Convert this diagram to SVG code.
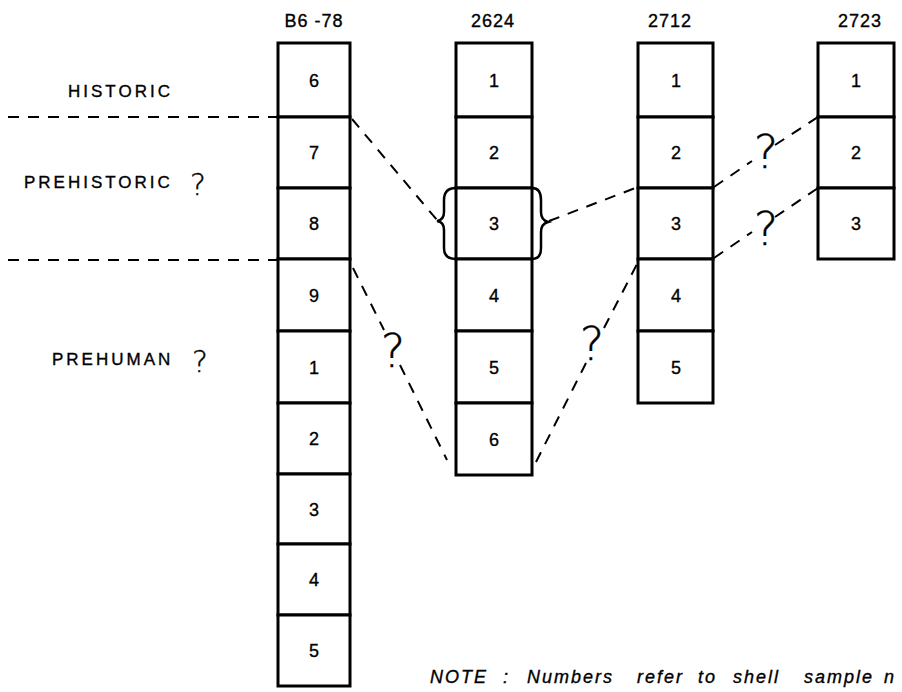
<svg xmlns="http://www.w3.org/2000/svg" width="902" height="692" viewBox="0 0 902 692">
<style>
.cell{fill:#fff;stroke:#000;stroke-width:3}
.num{font-family:"Liberation Sans",Arial,sans-serif;font-size:18px;text-anchor:middle;fill:#000;stroke:#000;stroke-width:0.35}
.hdr{font-family:"Liberation Sans",Arial,sans-serif;font-size:18px;text-anchor:middle;fill:#000;letter-spacing:1px;stroke:#000;stroke-width:0.35}
.lbl{font-family:"Liberation Sans",Arial,sans-serif;font-size:17px;fill:#000;letter-spacing:3px;stroke:#000;stroke-width:0.35}
.q{font-family:"DejaVu Sans",sans-serif;font-weight:200;text-anchor:middle;fill:#000;stroke:#000;stroke-width:0.4}
.dash{fill:none;stroke:#000;stroke-width:2;stroke-dasharray:11 9}
.brace{fill:none;stroke:#000;stroke-width:2.5}
.note{font-family:"Liberation Sans",Arial,sans-serif;font-size:18px;font-style:italic;fill:#000;letter-spacing:2px;stroke:#000;stroke-width:0.35}
</style>
<rect width="902" height="692" fill="#fff"/>

<g id="labels">
<text class="lbl" x="68" y="97">HISTORIC</text>
<text class="lbl" x="24" y="188">PREHISTORIC</text>
<text class="q" x="198" y="195" font-size="30">?</text>
<text class="lbl" x="52" y="365">PREHUMAN</text>
<text class="q" x="200" y="372" font-size="30">?</text>
</g>

<g id="connectors">
<line class="dash" x1="8" y1="117" x2="277" y2="117"/>
<line class="dash" x1="8" y1="260" x2="277" y2="260"/>
<line class="dash" x1="352" y1="119" x2="437" y2="220"/>
<line class="dash" x1="549" y1="221" x2="638" y2="187"/>
<line class="dash" x1="353" y1="268" x2="384" y2="330"/>
<line class="dash" x1="400" y1="365" x2="447" y2="460"/>
<text class="q" x="393" y="367" font-size="46">?</text>
<line class="dash" x1="536" y1="462" x2="586" y2="363"/>
<line class="dash" x1="604" y1="328" x2="637" y2="264"/>
<text class="q" x="592" y="360" font-size="46">?</text>
<line class="dash" x1="714" y1="187" x2="752" y2="161"/>
<line class="dash" x1="775" y1="145" x2="818" y2="117"/>
<text class="q" x="766" y="168" font-size="46">?</text>
<line class="dash" x1="714" y1="258" x2="752" y2="232"/>
<line class="dash" x1="775" y1="217" x2="818" y2="188"/>
<text class="q" x="766" y="245" font-size="46">?</text>
</g>

<g id="col-B6-78">
<text class="hdr" x="314" y="27">B6 -78</text>
<rect class="cell" x="278" y="43" width="72" height="74"/>
<rect class="cell" x="278" y="117" width="72" height="71"/>
<rect class="cell" x="278" y="188" width="72" height="71"/>
<rect class="cell" x="278" y="259" width="72" height="72"/>
<rect class="cell" x="278" y="331" width="72" height="72"/>
<rect class="cell" x="278" y="403" width="72" height="71"/>
<rect class="cell" x="278" y="474" width="72" height="70"/>
<rect class="cell" x="278" y="544" width="72" height="71"/>
<rect class="cell" x="278" y="615" width="72" height="71"/>
<text class="num" x="314" y="87">6</text>
<text class="num" x="314" y="159">7</text>
<text class="num" x="314" y="230">8</text>
<text class="num" x="314" y="302">9</text>
<text class="num" x="314" y="374">1</text>
<text class="num" x="314" y="445">2</text>
<text class="num" x="314" y="516">3</text>
<text class="num" x="314" y="586">4</text>
<text class="num" x="314" y="657">5</text>
</g>

<g id="col-2624">
<text class="hdr" x="493" y="27">2624</text>
<rect class="cell" x="456" y="43" width="76" height="74"/>
<rect class="cell" x="456" y="117" width="76" height="71"/>
<rect class="cell" x="456" y="188" width="76" height="71"/>
<rect class="cell" x="456" y="259" width="76" height="72"/>
<rect class="cell" x="456" y="331" width="76" height="72"/>
<rect class="cell" x="456" y="403" width="76" height="72"/>
<text class="num" x="494" y="87">1</text>
<text class="num" x="494" y="159">2</text>
<text class="num" x="494" y="230">3</text>
<text class="num" x="494" y="302">4</text>
<text class="num" x="494" y="374">5</text>
<text class="num" x="494" y="446">6</text>
<path class="brace" d="M456,188 Q444,188 444,200 L444,212 Q444,220 437,221 Q444,222 444,230 L444,248 Q444,259 456,259"/>
<path class="brace" d="M532,188 Q541,188 541,200 L541,212 Q541,220 548,222 Q541,224 541,232 L541,248 Q541,259 532,259"/>
</g>

<g id="col-2712">
<text class="hdr" x="670" y="27">2712</text>
<rect class="cell" x="638" y="43" width="75" height="74"/>
<rect class="cell" x="638" y="117" width="75" height="71"/>
<rect class="cell" x="638" y="188" width="75" height="71"/>
<rect class="cell" x="638" y="259" width="75" height="72"/>
<rect class="cell" x="638" y="331" width="75" height="72"/>
<text class="num" x="676" y="87">1</text>
<text class="num" x="676" y="159">2</text>
<text class="num" x="676" y="230">3</text>
<text class="num" x="676" y="302">4</text>
<text class="num" x="676" y="374">5</text>
</g>

<g id="col-2723">
<text class="hdr" x="860" y="27">2723</text>
<rect class="cell" x="818" y="43" width="76" height="74"/>
<rect class="cell" x="818" y="117" width="76" height="71"/>
<rect class="cell" x="818" y="188" width="76" height="71"/>
<text class="num" x="856" y="87">1</text>
<text class="num" x="856" y="159">2</text>
<text class="num" x="856" y="230">3</text>
</g>

<g id="note">
<text class="note" y="683"><tspan x="430">NOTE</tspan><tspan x="503">:</tspan><tspan x="527">Numbers</tspan><tspan x="637">refer</tspan><tspan x="698">to</tspan><tspan x="733">shell</tspan><tspan x="804">sample</tspan><tspan x="884">n</tspan></text>
</g>
</svg>
